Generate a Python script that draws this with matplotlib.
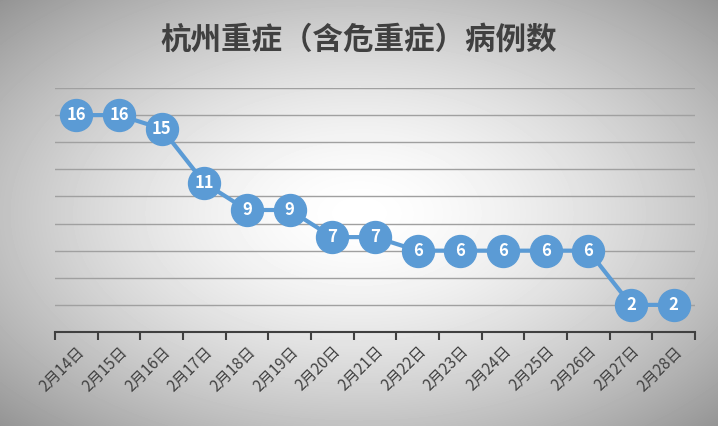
import numpy as np
import matplotlib
matplotlib.use('agg')
import matplotlib.pyplot as plt

plt.rcParams['font.family'] = ['Noto Sans CJK SC', 'DejaVu Sans']

dates = ['2月14日', '2月15日', '2月16日', '2月17日', '2月18日', '2月19日', '2月20日',
         '2月21日', '2月22日', '2月23日', '2月24日', '2月25日', '2月26日', '2月27日', '2月28日']
cases = [16, 16, 15, 11, 9, 9, 7, 7, 6, 6, 6, 6, 6, 2, 2]

W, H = 718, 426
fig = plt.figure(figsize=(W / 100, H / 100), dpi=100)

# radial gray background on its own axes, behind everything
yy, xx = np.mgrid[0:H, 0:W]
r = np.sqrt(((xx - W / 2) / (W / 2)) ** 2 + ((yy - H / 2) / (H / 2)) ** 2) / np.sqrt(2)
shade = 1.0 - 0.42 * r ** 1.6
bgax = fig.add_axes([0, 0, 1, 1], zorder=-1)
bgax.imshow(shade, cmap='gray', vmin=0, vmax=1, aspect='auto', interpolation='bilinear')
bgax.axis('off')

ax = fig.add_axes([55 / W, 1 - 332 / H, 640 / W, (332 - 88) / H], zorder=1)
ax.patch.set_alpha(0)
x = np.arange(len(dates))
ax.plot(x, cases, color='#5b9bd5', lw=3, marker='o', markersize=23,
        markerfacecolor='#5b9bd5', markeredgecolor='#5b9bd5', zorder=3, clip_on=False)
for xi, v in zip(x, cases):
    ax.text(xi, v, str(v), ha='center', va='center', color='white',
            fontsize=12, fontweight='bold', zorder=4)

ax.set_xlim(-0.5, len(dates) - 0.5)
ax.set_ylim(0, 18)
ax.set_yticks(np.arange(2, 19, 2))
ax.yaxis.grid(True, color='#a0a0a0', lw=1)
ax.set_axisbelow(True)
ax.tick_params(axis='y', length=0, labelleft=False)
for s in ['left', 'right', 'top']:
    ax.spines[s].set_visible(False)
ax.spines['bottom'].set_color('#404040')
ax.spines['bottom'].set_linewidth(1.5)

ax.set_xticks(x)
ax.set_xticklabels(dates, rotation=45, ha='right', rotation_mode='anchor',
                   fontsize=11, color='#404040')
ax.tick_params(axis='x', length=0, pad=8)
ax.set_xticks(np.arange(-0.5, len(dates), 1), minor=True)
ax.tick_params(axis='x', which='minor', length=6, width=1.5, color='#404040')

fig.text(0.5, 1 - 40 / H, '杭州重症（含危重症）病例数', ha='center', va='center',
         fontsize=22, fontweight='bold', color='#404040')

fig.savefig('out.png', dpi=100)
